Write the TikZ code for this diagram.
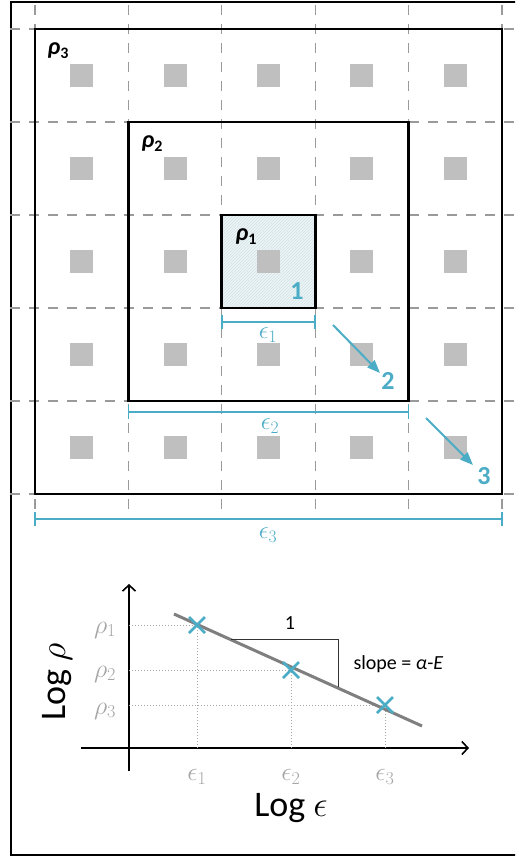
\documentclass[tikz,border=0pt]{standalone}
\usepackage{fix-cm}
\usepackage{fontspec}
\setmainfont{Carlito}
\usetikzlibrary{patterns,arrows.meta,calc}
\definecolor{cblue}{HTML}{4BACC6}
\definecolor{sqgray}{HTML}{BFBFBF}
\definecolor{gridgray}{HTML}{9A9A9A}
\definecolor{linegray}{HTML}{7F7F7F}
\definecolor{lblgray}{HTML}{A6A6A6}
\definecolor{hatchc}{HTML}{D2E2E8}
\tikzset{
  gridline/.style={gridgray,line width=1.3pt,dash pattern=on 10pt off 9pt},
  boxline/.style={black,line width=2.8pt},
  dimline/.style={cblue,line width=1.5pt},
  blarrow/.style={cblue,line width=2pt,-{Triangle[length=13pt,width=10pt]}},
  rholbl/.style={font=\fontsize{24}{24}\selectfont\bfseries\itshape},
  numlbl/.style={cblue,font=\fontsize{26}{26}\selectfont\bfseries},
  epslbl/.style={cblue,font=\fontsize{25}{25}\selectfont},
  axisline/.style={black,line width=1.6pt},
  guide/.style={lblgray,line width=1pt,dotted},
  crossm/.style={cblue,line width=2.6pt},
  glbl/.style={lblgray,font=\fontsize{26}{26}\selectfont},
}
\begin{document}
\begin{tikzpicture}[x=1pt,y=-1pt]
\useasboundingbox (0,0) rectangle (515,857);
\clip (0,0) rectangle (515,857);
% outer frame (right side lies outside the picture)
\draw[line width=1.8pt] (535,2) -- (11,2) -- (11,855) -- (535,855);
% hatched inner cell
\fill[hatchc!40] (221.8,215) rectangle (315.2,308);
\fill[pattern=north east lines,pattern color=hatchc] (221.8,215) rectangle (315.2,308);
% grid
\foreach \i in {0,...,5}{
  \draw[gridline] ({35+93.4*\i},5) -- ({35+93.4*\i},512);
  \draw[gridline] (10,{29+93*\i}) -- (515,{29+93*\i});
}
% gray squares
\foreach \i in {0,...,4}{
  \foreach \j in {0,...,4}{
    \fill[sqgray] ({81.7+93.4*\i-11.5},{75.5+93*\j-11.5}) rectangle ++(23,23);
  }
}
% boxes
\draw[boxline] (35,29) rectangle (502,494);
\draw[boxline] (128.4,122) rectangle (408.6,401);
\draw[boxline] (221.8,215) rectangle (315.2,308);
\node[rholbl] (L3) at (58,51) {ρ\raisebox{-4pt}{\fontsize{16}{16}\selectfont\upshape 3}};
\node[rholbl] (L2) at (152,144) {ρ\raisebox{-4pt}{\fontsize{16}{16}\selectfont\upshape 2}};
\node[rholbl] (L1) at (246,237) {ρ\raisebox{-4pt}{\fontsize{16}{16}\selectfont\upshape 1}};
\node[numlbl] (n1) at (297,291) {1};
\node[numlbl] (n2) at (388,381) {2};
\node[numlbl] (n3) at (484,476) {3};
% arrows
\coordinate (a2s) at (333,325);
\coordinate (a2e) at (380,373);
\coordinate (a3s) at (426,418);
\coordinate (a3e) at (473,465);
\draw[blarrow] (a2s) -- (a2e);
\draw[blarrow] (a3s) -- (a3e);
% dimensions
\coordinate (d1a) at (221.8,322); \coordinate (d1b) at (315.2,322);
\coordinate (d2a) at (128.4,412); \coordinate (d2b) at (408.6,412);
\coordinate (d3a) at (35,519);   \coordinate (d3b) at (502,519);
\foreach \a/\b in {d1a/d1b,d2a/d2b,d3a/d3b}{
  \draw[dimline] (\a) -- (\b);
  \draw[dimline] ($(\a)+(0,-7)$) -- ($(\a)+(0,7)$);
  \draw[dimline] ($(\b)+(0,-7)$) -- ($(\b)+(0,7)$);
}
\node[epslbl] (e1) at (268,335) {$\epsilon_1$};
\node[epslbl] (e2) at (270,426) {$\epsilon_2$};
\node[epslbl] (e3) at (268,535) {$\epsilon_3$};
% ---- plot ----
\coordinate (yb) at (129,771);
\coordinate (yt) at (129,584);
\coordinate (xl) at (81,748);
\coordinate (xr) at (469,748);
\draw[axisline,-{Straight Barb[length=6pt,width=13pt]}] (yb) -- (yt);
\draw[axisline,-{Straight Barb[length=6pt,width=13pt]}] (xl) -- (xr);
\coordinate (p1) at (197,625);
\coordinate (p2) at (291,670);
\coordinate (p3) at (385,705);
\foreach \p in {p1,p2,p3}{
  \draw[guide] (yb |- \p) -- (\p);
  \draw[guide] (\p |- xl) -- (\p);
}
\coordinate (fa) at (174,614);
\coordinate (fb) at (422,726);
\draw[linegray,line width=3pt] (fa) -- (fb);
\foreach \p in {p1,p2,p3}{
  \draw[crossm] ($(\p)+(-8,-8)$) -- ($(\p)+(8,8)$);
  \draw[crossm] ($(\p)+(-8,8)$) -- ($(\p)+(8,-8)$);
}
\coordinate (t1) at (231,639);
\coordinate (t2) at (338,639);
\coordinate (t3) at (338,687);
\draw[black!80,line width=1pt] (t1) -- (t2) -- (t3);
\node[font=\fontsize{20}{20}\selectfont] (one) at (290,623) {1};
\node[font=\fontsize{20}{20}\selectfont,anchor=west] (slope) at (350,664) {slope = \textit{α}-\textit{E}};
\node[glbl] (g1) at (105,630) {$\rho_1$};
\node[glbl] (g2) at (105,674) {$\rho_2$};
\node[glbl] (g3) at (105,711) {$\rho_3$};
\node[glbl] (h1) at (197,777) {$\epsilon_1$};
\node[glbl] (h2) at (291,777) {$\epsilon_2$};
\node[glbl] (h3) at (385,777) {$\epsilon_3$};
\node[rotate=90,font=\fontsize{36}{36}\selectfont] (ylab) at (57,682) {Log $\rho$};
\node[font=\fontsize{36}{36}\selectfont] (xlab) at (291,808) {Log $\epsilon$};
\end{tikzpicture}
\end{document}
